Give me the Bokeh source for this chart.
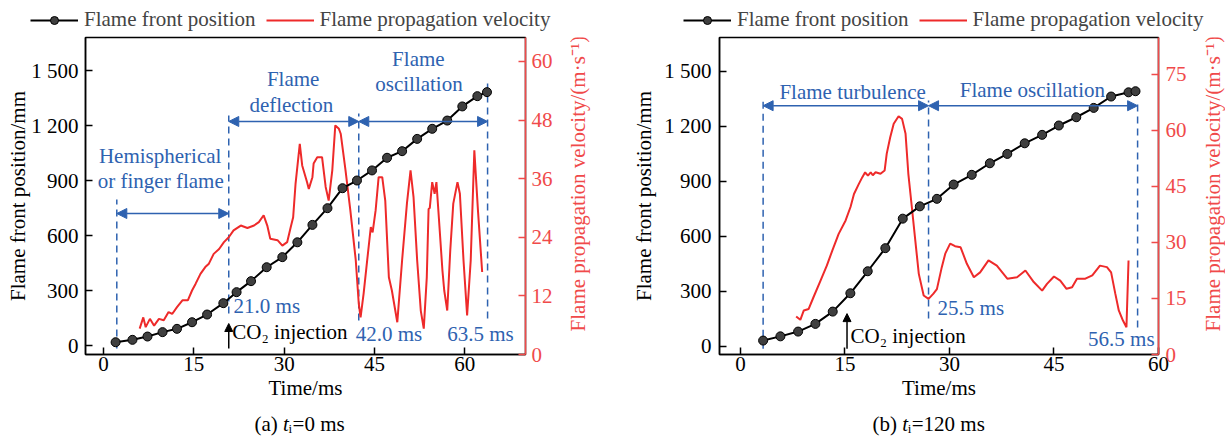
import math
from bokeh.plotting import figure
from bokeh.models import (Range1d, LinearAxis, FixedTicker, Legend, LegendItem,
                          Arrow, NormalHead)
from bokeh.layouts import row, column
from bokeh.core.properties import value
from bokeh.embed import file_html
from bokeh.resources import INLINE

# ---------------- data: panel (a) ti = 0 ms ----------------
time_a_pos = [2.0, 4.8, 7.3, 9.8, 12.2, 14.7, 17.2, 19.9, 22.1, 24.5, 27.1, 29.7, 32.2,
              34.7, 37.2, 39.7, 42.1, 44.6, 47.1, 49.6, 52.1, 54.6, 57.1, 59.6, 62.1, 63.7]
pos_a = [18, 31, 49, 73, 91, 127, 169, 231, 291, 351, 427, 482, 563,
         658, 749, 858, 900, 955, 1024, 1060, 1127, 1182, 1227, 1304, 1360, 1382]

time_a_vel = [6.0, 6.6, 7.0, 7.7, 8.4, 9.2, 10.0, 10.8, 11.4, 12.2, 13.1, 14.0, 14.7, 15.3,
              16.1, 16.9, 17.5, 18.3, 19.2, 20.0, 20.8, 21.6, 22.8, 23.9, 25.0, 25.8, 26.6,
              27.2, 27.7, 28.9, 29.7, 30.5, 31.1, 31.5, 31.9, 32.6, 33.0, 33.8, 34.1, 34.7,
              34.9, 35.5, 36.3, 36.9, 37.4, 38.0, 38.5, 39.1, 39.4, 40.2, 41.0, 41.9, 42.4,
              42.7, 43.2, 43.8, 44.4, 44.7, 45.2, 45.7, 46.3, 46.8, 47.4, 47.9, 48.8, 49.6,
              50.4, 51.0, 51.5, 52.1, 52.7, 53.2, 53.7, 54.0, 54.2, 54.6, 55.0, 55.3, 55.7,
              56.3, 56.6, 57.1, 57.6, 58.1, 58.8, 59.2, 59.8, 60.4, 61.0, 61.6, 62.2, 62.9]
vel_a = [5.3, 7.6, 5.6, 7.3, 5.9, 7.3, 7.0, 8.7, 8.3, 9.7, 11.1, 11.1, 13.1, 14.5,
         16.5, 17.9, 18.6, 20.6, 21.6, 23.0, 24.0, 25.4, 26.4, 25.9, 26.4, 27.1, 28.5,
         26.4, 23.7, 23.4, 22.3, 23.0, 26.1, 28.1, 35.0, 43.1, 38.7, 35.3, 33.9, 36.3,
         39.1, 40.4, 40.4, 34.3, 31.5, 37.7, 46.9, 46.2, 45.2, 37.7, 29.5, 19.3, 10.4,
         7.6, 12.4, 19.3, 26.1, 25.0, 29.5, 36.3, 36.3, 31.5, 15.8, 13.1, 6.6, 19.3,
         30.9, 37.7, 32.2, 19.3, 9.0, 5.3, 15.8, 29.8, 30.0, 35.3, 32.9, 35.3, 28.1,
         17.2, 13.1, 9.0, 21.3, 30.9, 35.3, 32.9, 19.3, 8.0, 19.3, 41.8, 29.5, 16.9]

# ---------------- data: panel (b) ti = 120 ms ----------------
time_b_pos = [3.26, 5.74, 8.28, 10.76, 13.25, 15.78, 18.27, 20.8, 23.3, 25.75, 28.2, 30.6,
              33.2, 35.8, 38.3, 40.8, 43.3, 45.7, 48.2, 50.7, 53.2, 55.7, 56.7]
pos_b = [30, 53, 79, 121, 188, 288, 408, 534, 695, 762, 803, 881,
         934, 997, 1048, 1106, 1152, 1203, 1248, 1299, 1361, 1384, 1390]

time_b_vel = [8.0, 8.6, 9.1, 9.8, 10.5, 11.5, 12.4, 13.2, 14.1, 15.1, 15.8, 16.3, 17.0, 17.5,
              17.9, 18.3, 18.7, 19.0, 19.4, 20.1, 20.7, 21.0, 21.5, 22.0, 22.7, 23.2, 23.7,
              24.1, 24.6, 25.1, 25.6, 26.3, 27.0, 27.7, 28.2, 28.9, 29.4, 30.1, 30.8, 31.6,
              32.5, 33.5, 34.4, 35.6, 36.8, 38.3, 39.7, 40.9, 42.1, 43.3, 44.0, 45.0, 45.9,
              46.8, 47.6, 48.3, 49.5, 50.5, 51.6, 52.6, 53.2, 53.8, 54.3, 54.9, 55.4, 55.7]
vel_b = [10.2, 9.3, 11.8, 12.2, 15.4, 19.8, 23.8, 27.9, 32.3, 35.9, 39.5, 43.0, 45.7, 47.5,
         48.8, 47.9, 48.8, 48.0, 48.8, 48.4, 49.3, 53.8, 58.2, 61.8, 63.8, 63.1, 59.1,
         48.4, 39.5, 30.5, 21.6, 15.8, 14.9, 16.3, 17.5, 23.4, 27.0, 29.7, 29.0, 28.7,
         24.3, 20.7, 22.0, 25.2, 23.8, 20.3, 20.7, 22.5, 19.4, 17.1, 18.9, 20.9, 19.8,
         17.6, 18.0, 20.3, 20.3, 21.2, 23.8, 23.4, 22.0, 16.3, 11.8, 9.1, 7.3, 25.2]

# ---------------- ticks / labels ----------------
x_ticks_a = [0, 15, 30, 45, 60]
x_ticks_b = [0, 15, 30, 45, 60]
pos_ticks = [0, 300, 600, 900, 1200, 1500]
pos_tick_labels = {0: "0", 300: "300", 600: "600", 900: "900", 1200: "1 200", 1500: "1 500"}
vel_ticks_a = [0, 12, 24, 36, 48, 60]
vel_ticks_b = [0, 15, 30, 45, 60, 75]
legend_labels = ["Flame front position", "Flame propagation velocity"]
x_label = "Time/ms"
pos_label = "Flame front position/mm"
vel_label = "Flame propagation velocity/(m·s⁻¹)"
caption_a = ["(a) ", "t", "i", "=0 ms"]
caption_b = ["(b) ", "t", "i", "=120 ms"]

# annotations (time in ms, position in mm)
stage_a_times = [2.2, 20.8, 42.4, 63.8]
stage_a_tops = [796, 1255, 1265, 1456]
stage_a_bottoms = [-16, 175, 136, 147]
stage_a_arrows = [(2.2, 20.8, 720), (20.8, 42.4, 1222), (42.4, 63.8, 1222)]
stage_a_text = ["Hemispherical", "or finger flame", "Flame", "deflection", "Flame", "oscillation"]
stage_a_text_x = [9.4, 9.5, 31.5, 31.2, 52.3, 52.4]
stage_a_text_y = [1036, 895, 1451, 1312, 1565, 1429]
mark_a_text = ["21.0 ms", "42.0 ms", "63.5 ms"]
mark_a_x = [21.6, 41.9, 57.1]
mark_a_y = [218, 65, 65]
co2_a = (20.8, -16, 120, 21.4, 71)

stage_b_times = [3.26, 27.0, 57.0]
stage_b_tops = [1339, 1339, 1339]
stage_b_bottoms = [-14, 150, 101]
stage_b_arrows = [(3.26, 27.0, 1311), (27.0, 57.0, 1311)]
stage_b_text = ["Flame turbulence", "Flame oscillation"]
stage_b_text_x = [16.1, 41.9]
stage_b_text_y = [1388, 1394]
mark_b_text = ["25.5 ms", "56.5 ms"]
mark_b_x = [28.3, 49.9]
mark_b_y = [205, 41]
co2_b = (15.3, -14, 177, 15.8, 57)

FONT = "Liberation Serif"
FS = "21px"
BLUE = "#2e62b0"
RED = "#ee2a2a"
RED_AX = "#f04a4a"
MARKER_FILL = "#3f3f3f"

LEG_H = 34      # legend strip height
MAIN_H = 372    # main plot height
CAP_H = 33      # caption strip height


def blank(width, height):
    s = figure(width=width, height=height, x_range=Range1d(0, width),
               y_range=Range1d(0, height), output_backend="svg", toolbar_location=None,
               title_location=None, x_axis_location=None, y_axis_location=None,
               min_border=0)
    s.outline_line_color = None
    s.grid.visible = False
    s.background_fill_color = "white"
    s.border_fill_color = "white"
    return s


def main_plot(cfg):
    p = figure(width=cfg["width"], height=MAIN_H,
               x_range=Range1d(*cfg["xr"]), y_range=Range1d(*cfg["yr"]),
               output_backend="svg", toolbar_location=None, title_location=None,
               min_border_left=cfg["mbl"], min_border_right=cfg["mbr"],
               min_border_top=3, min_border_bottom=52)
    p.extra_y_ranges = {"v": Range1d(*cfg["vr"])}
    p.xgrid.visible = False
    p.ygrid.visible = False
    p.outline_line_color = "black"
    p.outline_line_width = 1.5
    p.background_fill_color = "white"
    p.border_fill_color = "white"

    xa = p.xaxis[0]
    ya = p.yaxis[0]
    for ax in (xa, ya):
        ax.axis_line_width = 1.5
        ax.major_tick_line_width = 1.5
        ax.major_tick_in = 7
        ax.major_tick_out = 0
        ax.minor_tick_line_color = None
        ax.major_label_text_font = FONT
        ax.major_label_text_font_size = FS
        ax.major_label_text_color = "black"
        ax.axis_label_text_font = FONT
        ax.axis_label_text_font_size = FS
        ax.axis_label_text_font_style = "normal"
        ax.axis_label_text_color = "black"
    xa.ticker = FixedTicker(ticks=cfg["xt"])
    xa.axis_label = x_label
    xa.major_label_standoff = 2
    xa.axis_label_standoff = 2
    ya.ticker = FixedTicker(ticks=pos_ticks)
    ya.major_label_overrides = pos_tick_labels
    ya.axis_label = pos_label
    ya.major_label_standoff = cfg["yls"]
    ya.axis_label_standoff = cfg["yas"]

    ra = LinearAxis(y_range_name="v", ticker=FixedTicker(ticks=cfg["vt"]))
    ra.axis_line_color = RED_AX
    ra.axis_line_width = 1.5
    ra.major_tick_line_color = RED_AX
    ra.major_tick_line_width = 1.5
    ra.major_tick_in = 7
    ra.major_tick_out = 0
    ra.minor_tick_line_color = None
    ra.major_label_text_font = FONT
    ra.major_label_text_font_size = FS
    ra.major_label_text_color = RED_AX
    ra.major_label_standoff = cfg["rls"]
    p.add_layout(ra, "right")

    # texts (under the curves)
    p.text(x=cfg["tx"], y=cfg["ty"], text=cfg["tt"], text_font=value(FONT),
           text_font_size=FS, text_color=BLUE, text_align="center", text_baseline="middle")
    p.text(x=cfg["mx"], y=cfg["my"], text=cfg["mt"], text_font=value(FONT),
           text_font_size=FS, text_color=BLUE, text_align="left", text_baseline="middle")
    cx, cy0, cy1, ctx, cty = cfg["co2"]
    p.text(x=[ctx], y=[cty], text=["CO₂ injection"], text_font=value(FONT),
           text_font_size=FS, text_color="black", text_align="left", text_baseline="middle")

    # stage boundaries
    p.segment(x0=cfg["st"], y0=cfg["sb"], x1=cfg["st"], y1=cfg["stp"],
              line_color=BLUE, line_width=1.5, line_dash="7 5")
    for (x0, x1, yy) in cfg["arrows"]:
        p.add_layout(Arrow(start=NormalHead(size=10, fill_color=BLUE, line_color=BLUE),
                           end=NormalHead(size=10, fill_color=BLUE, line_color=BLUE),
                           x_start=x0, y_start=yy, x_end=x1, y_end=yy,
                           line_color=BLUE, line_width=1.5))
    p.add_layout(Arrow(end=NormalHead(size=8, fill_color="black", line_color="black"),
                       x_start=cx, y_start=cy0, x_end=cx, y_end=cy1,
                       line_color="black", line_width=1.5))

    # data curves
    p.line(cfg["tv"], cfg["v"], y_range_name="v", line_color=RED, line_width=2)
    p.line(cfg["tp"], cfg["p"], line_color="black", line_width=2)
    p.scatter(cfg["tp"], cfg["p"], size=9, fill_color=MARKER_FILL,
              line_color="black", line_width=1)
    return p


def legend_strip(width, loc):
    s = blank(width, LEG_H)
    # proxy renderers that sit outside the strip, only used to draw legend swatches
    pl = s.line(x=[-200, -190], y=[-200, -200], line_color="black", line_width=2)
    ps = s.scatter(x=[-200], y=[-200], size=9, fill_color=MARKER_FILL,
                   line_color="black", line_width=1)
    vr = s.line(x=[-200, -190], y=[-200, -200], line_color=RED, line_width=2)
    leg = Legend(items=[LegendItem(label=legend_labels[0], renderers=[pl, ps]),
                        LegendItem(label=legend_labels[1], renderers=[vr])],
                 orientation="horizontal", location=loc,
                 border_line_color=None, background_fill_alpha=0,
                 padding=0, margin=0, spacing=10, label_standoff=6,
                 glyph_width=48, glyph_height=20, label_height=20,
                 label_text_font=FONT, label_text_font_size=FS)
    s.add_layout(leg)
    return s


def label_strip(width, xc, yc):
    s = blank(width, MAIN_H)
    s.text(x=[xc], y=[yc], text=[vel_label], angle=math.pi / 2, text_font=value(FONT),
           text_font_size=FS, text_color=RED_AX, text_align="center", text_baseline="middle")
    return s


def caption_strip(width, x0, pieces, w_prefix):
    s = blank(width, CAP_H)
    common = dict(text_font=value(FONT), text_color="black", text_baseline="middle",
                  text_align="left")
    yc = CAP_H - 17
    s.text(x=[x0], y=[yc], text=[pieces[0]], text_font_size=FS, **common)
    s.text(x=[x0 + w_prefix], y=[yc], text=[pieces[1]], text_font_size=FS,
           text_font_style="italic", **common)
    s.text(x=[x0 + w_prefix + 5.5], y=[yc - 5], text=[pieces[2]], text_font_size="13px", **common)
    s.text(x=[x0 + w_prefix + 9.5], y=[yc], text=[pieces[3]], text_font_size=FS, **common)
    return s


label_mid = MAIN_H - (3 + 317 / 2) - 10

pa = main_plot(dict(width=560, xr=(-3.0, 70.1), yr=(-49, 1680), vr=(0, 64.9), mbl=85, mbr=35,
                    xt=x_ticks_a, vt=vel_ticks_a, yls=7, yas=-2, rls=6,
                    st=stage_a_times, sb=stage_a_bottoms, stp=stage_a_tops, arrows=stage_a_arrows,
                    tv=time_a_vel, v=vel_a, tp=time_a_pos, p=pos_a,
                    tx=stage_a_text_x, ty=stage_a_text_y, tt=stage_a_text,
                    mx=mark_a_x, my=mark_a_y, mt=mark_a_text, co2=co2_a))
pb = main_plot(dict(width=571, xr=(-3.0, 60.0), yr=(-46, 1683), vr=(0, 84.9), mbl=99, mbr=33,
                    xt=x_ticks_b, vt=vel_ticks_b, yls=8, yas=5, rls=7,
                    st=stage_b_times, sb=stage_b_bottoms, stp=stage_b_tops, arrows=stage_b_arrows,
                    tv=time_b_vel, v=vel_b, tp=time_b_pos, p=pos_b,
                    tx=stage_b_text_x, ty=stage_b_text_y, tt=stage_b_text,
                    mx=mark_b_x, my=mark_b_y, mt=mark_b_text, co2=co2_b))

col_a = column(legend_strip(620, (30, 2)),
               row(pa, label_strip(60, 17, label_mid)),
               caption_strip(620, 254, caption_a, 28.6))
col_b = column(legend_strip(605, (63, 2)),
               row(pb, label_strip(34, 21, label_mid)),
               caption_strip(605, 252, caption_b, 29.7))

layout = row(col_a, col_b)
open("out.html", "w").write(file_html(layout, INLINE))
